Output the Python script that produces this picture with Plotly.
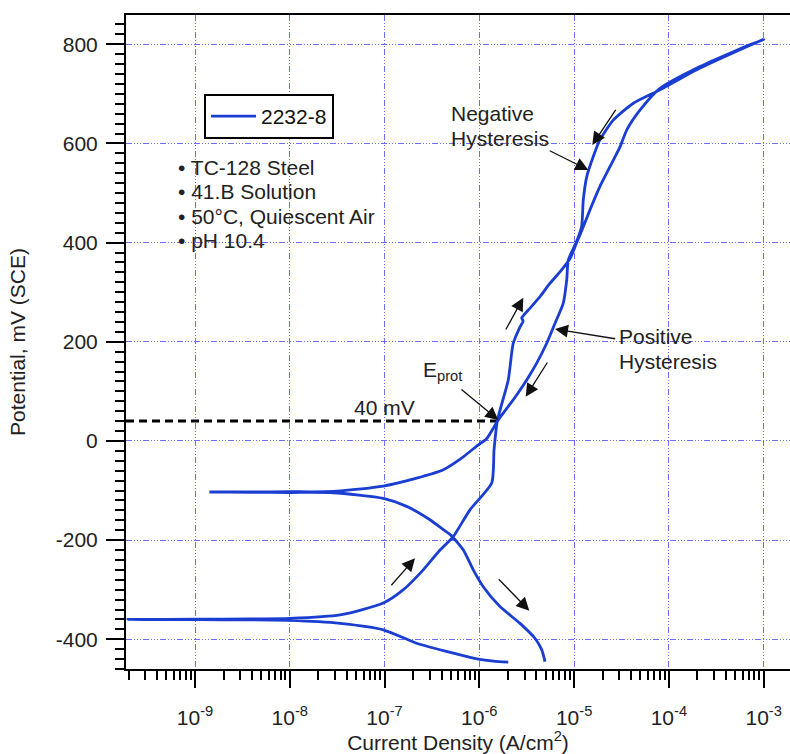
import numpy as np
import plotly.graph_objects as go

# ---------------- data ----------------
# forward scan: cathodic start -> Ecorr (-360 mV) -> anodic up to 810 mV
fwd_current = [2.02e-6, 1.41e-6, 9.75e-7, 5.31e-7, 2.18e-7, 9.7e-8, 3.39e-8, 1.0e-8, 3.8e-9, 1.1e-9,
               1.96e-10,
               1.1e-9, 3.8e-9, 1.0e-8, 3.39e-8, 9.7e-8, 1.58e-7, 2.56e-7, 3.85e-7, 5.31e-7, 7.96e-7,
               1.35e-6, 1.43e-6, 1.55e-6, 2.02e-6, 2.28e-6, 2.69e-6, 2.9e-6, 2.8e-6, 3.29e-6, 4.37e-6,
               5.57e-6, 7.1e-6, 9.06e-6, 1.06e-5, 1.25e-5, 1.47e-5, 1.87e-5, 2.39e-5, 3.05e-5,
               3.59e-5, 4.95e-5, 8.05e-5, 2.13e-4, 4.79e-4, 1.0e-3]
fwd_potential = [-446, -444, -440, -428, -408, -381, -368, -362, -361, -360.5,
                 -360,
                 -359.5, -359, -358, -351, -327, -300, -260, -220, -193, -139,
                 -85, -18, 41, 123, 197, 230, 242, 248, 264, 291,
                 318, 341, 368, 399, 432, 466, 513, 553, 593,
                 627, 667, 711, 755, 785, 810]

# reverse scan: 810 mV -> Eprot -> second Ecorr (-100 mV) -> cathodic end
rev_current = [4.79e-4, 2.13e-4, 8.05e-5, 4.22e-5, 2.59e-5, 1.87e-5, 1.59e-5, 1.36e-5, 1.25e-5,
               1.20e-5, 1.05e-5, 8.69e-6, 8.36e-6, 7.69e-6, 6.28e-6, 5.14e-6, 4.03e-6, 3.16e-6,
               2.28e-6, 1.58e-6, 1.20e-6, 9.75e-7, 6.78e-7, 4.17e-7, 2.18e-7, 9.7e-8, 2.88e-8,
               1.0e-8, 3.8e-9, 1.42e-9, 3.8e-9, 1.0e-8, 2.88e-8, 9.7e-8, 1.71e-7, 3.01e-7, 4.17e-7,
               5.0e-7, 6.78e-7, 8.63e-7, 1.10e-6, 1.65e-6, 2.69e-6, 3.86e-6, 4.55e-6, 4.93e-6]
rev_potential = [783, 752, 708, 681, 647, 607, 573, 533, 486,
                 432, 400, 365, 325, 278, 237, 197, 157, 123,
                 83, 42, 5, -8, -32, -58, -75, -91, -102,
                 -102.5, -103, -103, -103.5, -104, -104.5, -116, -132, -159, -179,
                 -190, -220, -260, -294, -334, -368, -398, -421, -445]

series_name = "2232-8"
e_prot_current = 1.55e-6
e_prot_potential = 40

decade_vals = [1e-9, 1e-8, 1e-7, 1e-6, 1e-5, 1e-4, 1e-3]
decade_text = ["10<sup>-9</sup>", "10<sup>-8</sup>", "10<sup>-7</sup>", "10<sup>-6</sup>",
               "10<sup>-5</sup>", "10<sup>-4</sup>", "10<sup>-3</sup>"]
y_tick_vals = [-400, -200, 0, 200, 400, 600, 800]
y_tick_text = ["-400", "-200", "0", "200", "400", "600", "800"]
notes = ["TC-128 Steel", "41.B Solution", "50°C, Quiescent Air", "pH 10.4"]

# ---------------- layout geometry ----------------
W, H = 790, 754
ML, MR, MT, MB = 126, 0, 15, 85
X_RANGE = [-9.728, -2.722]
Y_RANGE = [-460, 859]
PW, PH = W - ML - MR, H - MT - MB


def dx(px):
    return X_RANGE[0] + (px - ML) / PW * (X_RANGE[1] - X_RANGE[0])


def dy(py):
    return Y_RANGE[0] + (H - MB - py) / PH * (Y_RANGE[1] - Y_RANGE[0])


FONT = "Liberation Sans, Arial, sans-serif"
BLUE = "#1a3dd2"
GRID = "#6f6fff"
FS = 21

fig = go.Figure()

fig.add_trace(go.Scatter(
    x=[10 ** X_RANGE[0], e_prot_current], y=[e_prot_potential, e_prot_potential],
    mode="lines", line=dict(color="black", width=3, dash="8px,5px"),
    showlegend=False, hoverinfo="skip"))

fig.add_trace(go.Scatter(
    x=fwd_current + rev_current, y=fwd_potential + rev_potential,
    mode="lines", name=series_name,
    line=dict(color=BLUE, width=2.8, shape="spline", smoothing=0.6)))

minor_x = [d * 10.0 ** k for k in range(-10, -2) for d in range(2, 10)]

fig.update_xaxes(
    type="log", range=X_RANGE,
    tickmode="array", tickvals=decade_vals, ticktext=decade_text,
    ticks="outside", ticklen=17, tickwidth=2, tickcolor="black",
    ticklabelstandoff=12,
    tickfont=dict(family=FONT, size=FS, color="#222"),
    minor=dict(tickmode="array", tickvals=minor_x, ticks="outside", ticklen=9,
               tickwidth=1.5, tickcolor="black", showgrid=False),
    showline=True, linecolor="black", linewidth=2, mirror=True,
    showgrid=True, gridcolor=GRID, gridwidth=1, griddash="6px,2px,1px,2px,1px,2px,1px,2px",
    zeroline=False,
    title=dict(text="Current Density (A/cm<sup>2</sup>)", font=dict(family=FONT, size=FS, color="#222"),
               standoff=6),
    automargin=False,
)
fig.update_yaxes(
    range=Y_RANGE,
    tickmode="array", tickvals=y_tick_vals, ticktext=y_tick_text,
    ticks="outside", ticklen=18, tickwidth=2, tickcolor="black",
    ticklabelstandoff=4,
    tickfont=dict(family=FONT, size=FS, color="#222"),
    minor=dict(tickmode="linear", tick0=0, dtick=20, ticks="outside", ticklen=9,
               tickwidth=1.5, tickcolor="black", showgrid=False),
    showline=True, linecolor="black", linewidth=2, mirror=False,
    showgrid=True, gridcolor=GRID, gridwidth=1, griddash="6px,2px,1px,2px,1px,2px,1px,2px",
    zeroline=False,
    title=dict(text="Potential, mV (SCE)", font=dict(family=FONT, size=FS, color="#222"),
               standoff=24),
    automargin=False,
)

annotations = []


def text_ann(txt, px, py, xanchor="left"):
    annotations.append(dict(x=dx(px), y=dy(py), xref="x", yref="y", text=txt, showarrow=False,
                            xanchor=xanchor, yanchor="middle",
                            font=dict(family=FONT, size=FS, color="#222")))


def arrow(tail, head):
    annotations.append(dict(x=dx(head[0]), y=dy(head[1]), xref="x", yref="y",
                            ax=tail[0] - head[0], ay=tail[1] - head[1], axref="pixel", ayref="pixel",
                            text="", showarrow=True, arrowhead=2, arrowsize=2.0, arrowwidth=1.3,
                            arrowcolor="#111", standoff=0, startstandoff=0))


for i, n in enumerate(notes):
    text_ann("\u2022 " + n, 176, [167.3, 191.7, 216, 240][i])

text_ann("Negative", 449, 113.3)
text_ann("Hysteresis", 449, 138.3)
text_ann("Positive", 617, 336.7)
text_ann("Hysteresis", 617, 361.7)
text_ann("40 mV", 384, 407, xanchor="center")
text_ann("E<sub>prot</sub>", 421, 371)

arrow((390, 586.7), (415, 558.3))
arrow((497.3, 577.7), (529.3, 610.7))
arrow((505, 331), (523.3, 297.7))
arrow((548.3, 361), (525.7, 396.7))
arrow((616.7, 108.3), (592.3, 145))
arrow((548.3, 150), (588.3, 170))
arrow((616.7, 339), (555, 329))
arrow((460, 388.3), (498.3, 420))

fig.update_layout(
    width=W, height=H,
    margin=dict(l=ML, r=MR, t=MT, b=MB, autoexpand=False),
    paper_bgcolor="white", plot_bgcolor="white",
    font=dict(family=FONT, size=FS, color="#222"),
    showlegend=True,
    legend=dict(x=(204 - ML) / PW, y=1 - (94 - MT) / PH, xanchor="left", yanchor="top",
                bgcolor="white", bordercolor="black", borderwidth=2,
                font=dict(family=FONT, size=FS, color="#111"), itemwidth=45),
    annotations=annotations,
)

fig.write_html("out.html")
